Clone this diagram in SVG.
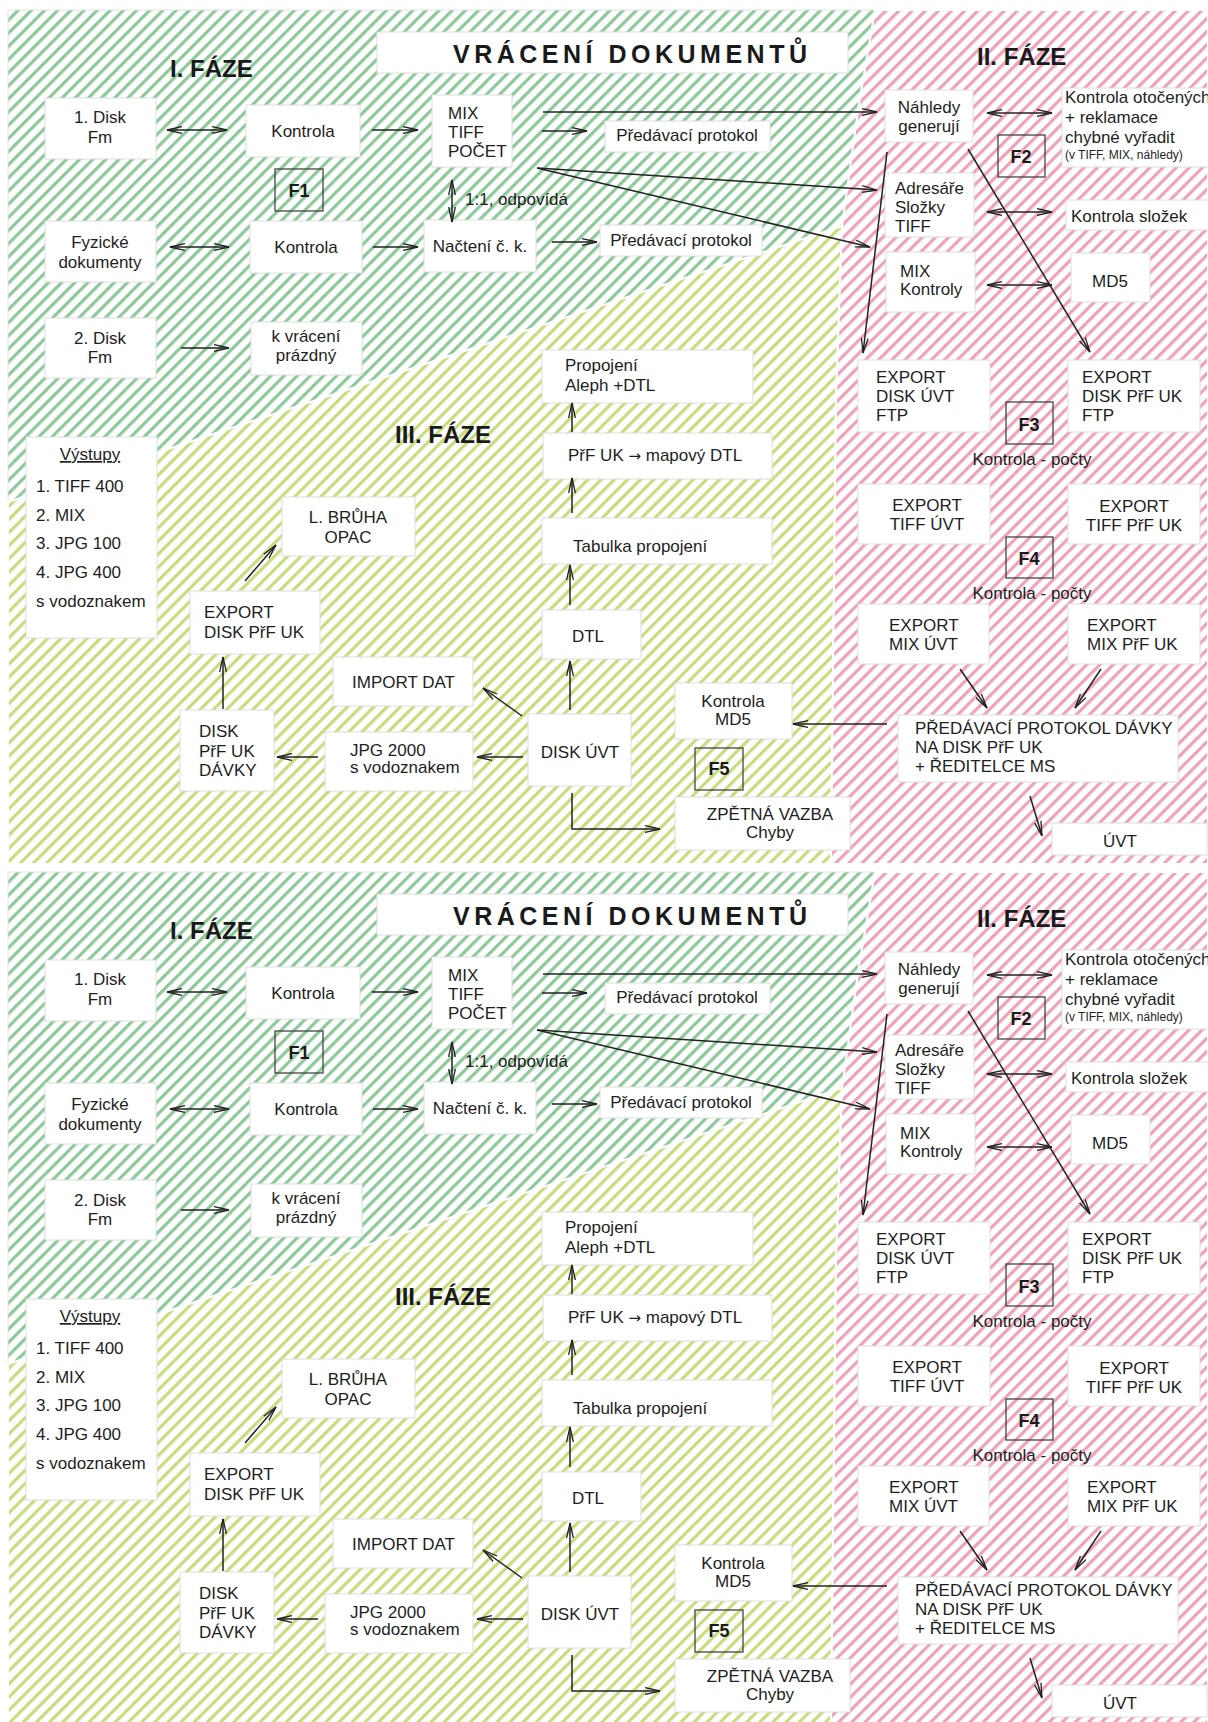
<svg xmlns="http://www.w3.org/2000/svg" width="1208" height="1722" viewBox="0 0 1208 1722">
<defs>
<pattern id="pg" patternUnits="userSpaceOnUse" width="9.3" height="9.3" patternTransform="rotate(45)"><rect width="9.3" height="9.3" fill="#fff"/><rect width="3.2" height="9.3" fill="#8cc89a"/></pattern>
<pattern id="py" patternUnits="userSpaceOnUse" width="9.3" height="9.3" patternTransform="rotate(45)"><rect width="9.3" height="9.3" fill="#fff"/><rect width="3.2" height="9.3" fill="#c6dc7e"/></pattern>
<pattern id="pp" patternUnits="userSpaceOnUse" width="9.3" height="9.3" patternTransform="rotate(45)"><rect width="9.3" height="9.3" fill="#fff"/><rect width="3.2" height="9.3" fill="#eca2ba"/></pattern>
<marker id="ah" viewBox="0 0 16 8" refX="15" refY="4" markerWidth="16" markerHeight="8" markerUnits="userSpaceOnUse" orient="auto-start-reverse"><path d="M0,0.6 L15,4 L0,7.4" fill="none" stroke="#222" stroke-width="1.3"/></marker>
<style>
.n rect{fill:#fff;stroke:#dedede;stroke-width:1}
text{font-family:"Liberation Sans",Arial,Helvetica,sans-serif;font-size:17px;fill:#1e1e1e}
.c{text-anchor:middle}
.ar{font-family:"DejaVu Sans",sans-serif;font-size:15px}
.ph{font-weight:bold;font-size:24px;fill:#1a1a1a}
.f rect{fill:none;stroke:#444;stroke-width:1.3}
.f text{font-weight:bold;font-size:18px;text-anchor:middle;fill:#1a1a1a}
.cn line,.cn polyline{stroke:#222;stroke-width:1.5;fill:none}
.a{marker-end:url(#ah)}
.d{marker-start:url(#ah);marker-end:url(#ah)}
.bg{stroke:#fff;stroke-width:2}
</style>
</defs>
<rect width="1208" height="1722" fill="#fff"/>

<g id="panelA">
<g id="a-zones">
<rect x="8" y="10" width="1200" height="854" fill="url(#pg)" stroke="#e4e4e4" stroke-width="1"/>
<polygon class="bg" points="8,502 842,226 836,400 831,864 8,864" fill="url(#py)"/>
<polygon class="bg" points="875,10 1208,10 1208,864 831,864 836,400 842,226 858,110" fill="url(#pp)"/>
</g>
<text class="ph" x="170" y="77">I. FÁZE</text>
<text class="ph" x="977" y="65">II. FÁZE</text>
<text class="ph" x="395" y="443">III. FÁZE</text>
<g id="a-title" class="n"><rect x="377" y="32" width="471" height="41"/><text x="453" y="63" style="font-weight:bold;font-size:25px;fill:#1a1a1a" textLength="354" lengthAdjust="spacing">VRÁCENÍ  DOKUMENTŮ</text></g>
<g id="a-disk1" class="n"><rect x="45" y="98" width="111" height="61"/><text class="c"><tspan x="100" y="123">1. Disk</tspan><tspan x="100" y="143">Fm</tspan></text></g>
<g id="a-kontrola1" class="n"><rect x="246" y="105" width="114" height="52"/><text class="c" x="303" y="137">Kontrola</text></g>
<g id="a-f1" class="f"><rect x="275" y="169" width="48" height="42"/><text x="299" y="197">F1</text></g>
<g id="a-fyzicke" class="n"><rect x="45" y="221" width="111" height="61"/><text class="c"><tspan x="100" y="248">Fyzické</tspan><tspan x="100" y="268">dokumenty</tspan></text></g>
<g id="a-kontrola2" class="n"><rect x="250" y="221" width="112" height="52"/><text class="c" x="306" y="253">Kontrola</text></g>
<g id="a-disk2" class="n"><rect x="45" y="318" width="111" height="60"/><text class="c"><tspan x="100" y="344">2. Disk</tspan><tspan x="100" y="363">Fm</tspan></text></g>
<g id="a-prazdny" class="n"><rect x="251" y="322" width="111" height="53"/><text class="c"><tspan x="306" y="342">k vrácení</tspan><tspan x="306" y="361">prázdný</tspan></text></g>
<g id="a-mix" class="n"><rect x="432" y="95" width="80" height="72"/><text><tspan x="448" y="119">MIX</tspan><tspan x="448" y="138">TIFF</tspan><tspan x="448" y="157">POČET</tspan></text></g>
<g id="a-pp1" class="n"><rect x="605" y="121" width="165" height="31"/><text class="c" x="687" y="141">Předávací protokol</text></g>
<text x="465" y="205">1:1, odpovídá</text>
<g id="a-nacteni" class="n"><rect x="424" y="220" width="112" height="52"/><text class="c" x="480" y="252">Načtení č. k.</text></g>
<g id="a-pp2" class="n"><rect x="600" y="225" width="162" height="31"/><text class="c" x="681" y="246">Předávací protokol</text></g>
<g id="a-nahledy" class="n"><rect x="885" y="90" width="88" height="52"/><text class="c"><tspan x="929" y="113">Náhledy</tspan><tspan x="929" y="132">generují</tspan></text></g>
<g id="a-otocenych" class="n"><rect x="1062" y="88" width="152" height="79"/><text><tspan x="1065" y="103">Kontrola otočených</tspan><tspan x="1065" y="123">+ reklamace</tspan><tspan x="1065" y="143">chybné vyřadit</tspan><tspan x="1065" y="159" style="font-size:12px">(v TIFF, MIX, náhledy)</tspan></text></g>
<g id="a-f2" class="f"><rect x="998" y="135" width="47" height="42"/><text x="1021" y="163">F2</text></g>
<g id="a-adresare" class="n"><rect x="885" y="173" width="89" height="64"/><text><tspan x="895" y="194">Adresáře</tspan><tspan x="895" y="213">Složky</tspan><tspan x="895" y="232">TIFF</tspan></text></g>
<g id="a-slozek" class="n"><rect x="1066" y="200" width="150" height="30"/><text x="1071" y="222">Kontrola složek</text></g>
<g id="a-mixkontroly" class="n"><rect x="886" y="252" width="89" height="60"/><text><tspan x="900" y="277">MIX</tspan><tspan x="900" y="295">Kontroly</tspan></text></g>
<g id="a-md5" class="n"><rect x="1071" y="253" width="79" height="49"/><text class="c" x="1110" y="287">MD5</text></g>
<g id="a-expdiskuvt" class="n"><rect x="858" y="360" width="132" height="72"/><text><tspan x="876" y="383">EXPORT</tspan><tspan x="876" y="402">DISK ÚVT</tspan><tspan x="876" y="421">FTP</tspan></text></g>
<g id="a-expdiskprf" class="n"><rect x="1068" y="360" width="132" height="72"/><text><tspan x="1082" y="383">EXPORT</tspan><tspan x="1082" y="402">DISK PřF UK</tspan><tspan x="1082" y="421">FTP</tspan></text></g>
<g id="a-f3" class="f"><rect x="1006" y="402" width="47" height="42"/><text x="1029" y="431">F3</text></g>
<text class="c" x="1032" y="465">Kontrola - počty</text>
<g id="a-exptiffuvt" class="n"><rect x="858" y="484" width="132" height="60"/><text class="c"><tspan x="927" y="511">EXPORT</tspan><tspan x="927" y="530">TIFF ÚVT</tspan></text></g>
<g id="a-exptiffprf" class="n"><rect x="1068" y="484" width="132" height="60"/><text class="c"><tspan x="1134" y="512">EXPORT</tspan><tspan x="1134" y="531">TIFF PřF UK</tspan></text></g>
<g id="a-f4" class="f"><rect x="1006" y="537" width="47" height="41"/><text x="1029" y="565">F4</text></g>
<text class="c" x="1032" y="599">Kontrola - počty</text>
<g id="a-expmixuvt" class="n"><rect x="858" y="604" width="131" height="60"/><text><tspan x="889" y="631">EXPORT</tspan><tspan x="889" y="650">MIX ÚVT</tspan></text></g>
<g id="a-expmixprf" class="n"><rect x="1068" y="604" width="132" height="60"/><text><tspan x="1087" y="631">EXPORT</tspan><tspan x="1087" y="650">MIX PřF UK</tspan></text></g>
<g id="a-davky" class="n"><rect x="898" y="715" width="280" height="67"/><text><tspan x="915" y="734">PŘEDÁVACÍ PROTOKOL DÁVKY</tspan><tspan x="915" y="753">NA DISK PřF UK</tspan><tspan x="915" y="772">+ ŘEDITELCE MS</tspan></text></g>
<g id="a-uvt" class="n"><rect x="1052" y="823" width="155" height="32"/><text class="c" x="1120" y="847">ÚVT</text></g>
<g id="a-vystupy" class="n"><rect x="26" y="437" width="131" height="201"/><text class="c" x="90" y="460" text-decoration="underline">Výstupy</text><text><tspan x="36" y="492">1. TIFF 400</tspan><tspan x="36" y="521">2. MIX</tspan><tspan x="36" y="549">3. JPG 100</tspan><tspan x="36" y="578">4. JPG 400</tspan><tspan x="36" y="607">s vodoznakem</tspan></text></g>
<g id="a-bruha" class="n"><rect x="282" y="497" width="133" height="59"/><text class="c"><tspan x="348" y="523">L. BRŮHA</tspan><tspan x="348" y="543">OPAC</tspan></text></g>
<g id="a-expdiskprfuk" class="n"><rect x="190" y="591" width="130" height="63"/><text><tspan x="204" y="618">EXPORT</tspan><tspan x="204" y="638">DISK PřF UK</tspan></text></g>
<g id="a-diskdavky" class="n"><rect x="180" y="710" width="94" height="81"/><text><tspan x="199" y="737">DISK</tspan><tspan x="199" y="757">PřF UK</tspan><tspan x="199" y="776">DÁVKY</tspan></text></g>
<g id="a-import" class="n"><rect x="333" y="657" width="140" height="49"/><text x="352" y="688">IMPORT DAT</text></g>
<g id="a-jpg2000" class="n"><rect x="325" y="732" width="148" height="59"/><text><tspan x="350" y="756">JPG 2000</tspan><tspan x="350" y="773">s vodoznakem</tspan></text></g>
<g id="a-propojeni" class="n"><rect x="542" y="350" width="211" height="53"/><text><tspan x="565" y="371">Propojení</tspan><tspan x="565" y="391">Aleph +DTL</tspan></text></g>
<g id="a-mapovy" class="n"><rect x="543" y="433" width="229" height="46"/><text x="568" y="461">PřF UK <tspan class="ar">→</tspan> mapový DTL</text></g>
<g id="a-tabulka" class="n"><rect x="542" y="518" width="230" height="46"/><text x="573" y="552">Tabulka propojení</text></g>
<g id="a-dtl" class="n"><rect x="542" y="610" width="99" height="49"/><text class="c" x="588" y="642">DTL</text></g>
<g id="a-diskuvt" class="n"><rect x="528" y="714" width="103" height="72"/><text class="c" x="580" y="758">DISK ÚVT</text></g>
<g id="a-kontrolamd5" class="n"><rect x="675" y="683" width="117" height="56"/><text class="c"><tspan x="733" y="707">Kontrola</tspan><tspan x="733" y="725">MD5</tspan></text></g>
<g id="a-f5" class="f"><rect x="695" y="748" width="48" height="42"/><text x="719" y="775">F5</text></g>
<g id="a-zpetna" class="n"><rect x="675" y="797" width="175" height="53"/><text class="c"><tspan x="770" y="820">ZPĚTNÁ VAZBA</tspan><tspan x="770" y="838">Chyby</tspan></text></g>
<g id="a-connectors" class="cn">
<line class="d" x1="167" y1="130" x2="227" y2="130"/>
<line class="a" x1="372" y1="130" x2="418" y2="130"/>
<line class="d" x1="170" y1="247" x2="229" y2="247"/>
<line class="a" x1="373" y1="247" x2="418" y2="247"/>
<line class="a" x1="181" y1="348" x2="229" y2="348"/>
<line class="d" x1="452" y1="180" x2="452" y2="222"/>
<line class="a" x1="542" y1="131" x2="587" y2="131"/>
<line class="a" x1="552" y1="242" x2="597" y2="242"/>
<line class="a" x1="543" y1="112" x2="877" y2="112"/>
<line class="a" x1="537" y1="168" x2="877" y2="190"/>
<line class="a" x1="537" y1="168" x2="870" y2="247"/>
<line class="d" x1="987" y1="113" x2="1052" y2="113"/>
<line class="d" x1="987" y1="212" x2="1052" y2="212"/>
<line class="d" x1="987" y1="285" x2="1052" y2="285"/>
<line class="a" x1="887" y1="152" x2="863" y2="353"/>
<line class="a" x1="968" y1="149" x2="1090" y2="352"/>
<line class="a" x1="960" y1="669" x2="987" y2="708"/>
<line class="a" x1="1101" y1="669" x2="1075" y2="708"/>
<line class="a" x1="887" y1="724" x2="793" y2="724"/>
<line class="a" x1="1030" y1="796" x2="1042" y2="836"/>
<line class="a" x1="572" y1="432" x2="572" y2="403"/>
<line class="a" x1="572" y1="513" x2="572" y2="478"/>
<line class="a" x1="570" y1="605" x2="570" y2="565"/>
<line class="a" x1="570" y1="710" x2="570" y2="661"/>
<line class="a" x1="522" y1="716" x2="483" y2="688"/>
<line class="a" x1="523" y1="757" x2="477" y2="757"/>
<line class="a" x1="318" y1="757" x2="277" y2="757"/>
<line class="a" x1="223" y1="709" x2="223" y2="657"/>
<line class="a" x1="245" y1="581" x2="276" y2="545"/>
<polyline class="a" points="572,793 572,829 660,829"/>
</g>
</g>

<g id="panelB" transform="translate(0,862)">
<g id="b-zones">
<rect x="8" y="10" width="1200" height="854" fill="url(#pg)" stroke="#e4e4e4" stroke-width="1"/>
<polygon class="bg" points="8,502 842,226 836,400 831,864 8,864" fill="url(#py)"/>
<polygon class="bg" points="875,10 1208,10 1208,864 831,864 836,400 842,226 858,110" fill="url(#pp)"/>
</g>
<text class="ph" x="170" y="77">I. FÁZE</text>
<text class="ph" x="977" y="65">II. FÁZE</text>
<text class="ph" x="395" y="443">III. FÁZE</text>
<g id="b-title" class="n"><rect x="377" y="32" width="471" height="41"/><text x="453" y="63" style="font-weight:bold;font-size:25px;fill:#1a1a1a" textLength="354" lengthAdjust="spacing">VRÁCENÍ  DOKUMENTŮ</text></g>
<g id="b-disk1" class="n"><rect x="45" y="98" width="111" height="61"/><text class="c"><tspan x="100" y="123">1. Disk</tspan><tspan x="100" y="143">Fm</tspan></text></g>
<g id="b-kontrola1" class="n"><rect x="246" y="105" width="114" height="52"/><text class="c" x="303" y="137">Kontrola</text></g>
<g id="b-f1" class="f"><rect x="275" y="169" width="48" height="42"/><text x="299" y="197">F1</text></g>
<g id="b-fyzicke" class="n"><rect x="45" y="221" width="111" height="61"/><text class="c"><tspan x="100" y="248">Fyzické</tspan><tspan x="100" y="268">dokumenty</tspan></text></g>
<g id="b-kontrola2" class="n"><rect x="250" y="221" width="112" height="52"/><text class="c" x="306" y="253">Kontrola</text></g>
<g id="b-disk2" class="n"><rect x="45" y="318" width="111" height="60"/><text class="c"><tspan x="100" y="344">2. Disk</tspan><tspan x="100" y="363">Fm</tspan></text></g>
<g id="b-prazdny" class="n"><rect x="251" y="322" width="111" height="53"/><text class="c"><tspan x="306" y="342">k vrácení</tspan><tspan x="306" y="361">prázdný</tspan></text></g>
<g id="b-mix" class="n"><rect x="432" y="95" width="80" height="72"/><text><tspan x="448" y="119">MIX</tspan><tspan x="448" y="138">TIFF</tspan><tspan x="448" y="157">POČET</tspan></text></g>
<g id="b-pp1" class="n"><rect x="605" y="121" width="165" height="31"/><text class="c" x="687" y="141">Předávací protokol</text></g>
<text x="465" y="205">1:1, odpovídá</text>
<g id="b-nacteni" class="n"><rect x="424" y="220" width="112" height="52"/><text class="c" x="480" y="252">Načtení č. k.</text></g>
<g id="b-pp2" class="n"><rect x="600" y="225" width="162" height="31"/><text class="c" x="681" y="246">Předávací protokol</text></g>
<g id="b-nahledy" class="n"><rect x="885" y="90" width="88" height="52"/><text class="c"><tspan x="929" y="113">Náhledy</tspan><tspan x="929" y="132">generují</tspan></text></g>
<g id="b-otocenych" class="n"><rect x="1062" y="88" width="152" height="79"/><text><tspan x="1065" y="103">Kontrola otočených</tspan><tspan x="1065" y="123">+ reklamace</tspan><tspan x="1065" y="143">chybné vyřadit</tspan><tspan x="1065" y="159" style="font-size:12px">(v TIFF, MIX, náhledy)</tspan></text></g>
<g id="b-f2" class="f"><rect x="998" y="135" width="47" height="42"/><text x="1021" y="163">F2</text></g>
<g id="b-adresare" class="n"><rect x="885" y="173" width="89" height="64"/><text><tspan x="895" y="194">Adresáře</tspan><tspan x="895" y="213">Složky</tspan><tspan x="895" y="232">TIFF</tspan></text></g>
<g id="b-slozek" class="n"><rect x="1066" y="200" width="150" height="30"/><text x="1071" y="222">Kontrola složek</text></g>
<g id="b-mixkontroly" class="n"><rect x="886" y="252" width="89" height="60"/><text><tspan x="900" y="277">MIX</tspan><tspan x="900" y="295">Kontroly</tspan></text></g>
<g id="b-md5" class="n"><rect x="1071" y="253" width="79" height="49"/><text class="c" x="1110" y="287">MD5</text></g>
<g id="b-expdiskuvt" class="n"><rect x="858" y="360" width="132" height="72"/><text><tspan x="876" y="383">EXPORT</tspan><tspan x="876" y="402">DISK ÚVT</tspan><tspan x="876" y="421">FTP</tspan></text></g>
<g id="b-expdiskprf" class="n"><rect x="1068" y="360" width="132" height="72"/><text><tspan x="1082" y="383">EXPORT</tspan><tspan x="1082" y="402">DISK PřF UK</tspan><tspan x="1082" y="421">FTP</tspan></text></g>
<g id="b-f3" class="f"><rect x="1006" y="402" width="47" height="42"/><text x="1029" y="431">F3</text></g>
<text class="c" x="1032" y="465">Kontrola - počty</text>
<g id="b-exptiffuvt" class="n"><rect x="858" y="484" width="132" height="60"/><text class="c"><tspan x="927" y="511">EXPORT</tspan><tspan x="927" y="530">TIFF ÚVT</tspan></text></g>
<g id="b-exptiffprf" class="n"><rect x="1068" y="484" width="132" height="60"/><text class="c"><tspan x="1134" y="512">EXPORT</tspan><tspan x="1134" y="531">TIFF PřF UK</tspan></text></g>
<g id="b-f4" class="f"><rect x="1006" y="537" width="47" height="41"/><text x="1029" y="565">F4</text></g>
<text class="c" x="1032" y="599">Kontrola - počty</text>
<g id="b-expmixuvt" class="n"><rect x="858" y="604" width="131" height="60"/><text><tspan x="889" y="631">EXPORT</tspan><tspan x="889" y="650">MIX ÚVT</tspan></text></g>
<g id="b-expmixprf" class="n"><rect x="1068" y="604" width="132" height="60"/><text><tspan x="1087" y="631">EXPORT</tspan><tspan x="1087" y="650">MIX PřF UK</tspan></text></g>
<g id="b-davky" class="n"><rect x="898" y="715" width="280" height="67"/><text><tspan x="915" y="734">PŘEDÁVACÍ PROTOKOL DÁVKY</tspan><tspan x="915" y="753">NA DISK PřF UK</tspan><tspan x="915" y="772">+ ŘEDITELCE MS</tspan></text></g>
<g id="b-uvt" class="n"><rect x="1052" y="823" width="155" height="32"/><text class="c" x="1120" y="847">ÚVT</text></g>
<g id="b-vystupy" class="n"><rect x="26" y="437" width="131" height="201"/><text class="c" x="90" y="460" text-decoration="underline">Výstupy</text><text><tspan x="36" y="492">1. TIFF 400</tspan><tspan x="36" y="521">2. MIX</tspan><tspan x="36" y="549">3. JPG 100</tspan><tspan x="36" y="578">4. JPG 400</tspan><tspan x="36" y="607">s vodoznakem</tspan></text></g>
<g id="b-bruha" class="n"><rect x="282" y="497" width="133" height="59"/><text class="c"><tspan x="348" y="523">L. BRŮHA</tspan><tspan x="348" y="543">OPAC</tspan></text></g>
<g id="b-expdiskprfuk" class="n"><rect x="190" y="591" width="130" height="63"/><text><tspan x="204" y="618">EXPORT</tspan><tspan x="204" y="638">DISK PřF UK</tspan></text></g>
<g id="b-diskdavky" class="n"><rect x="180" y="710" width="94" height="81"/><text><tspan x="199" y="737">DISK</tspan><tspan x="199" y="757">PřF UK</tspan><tspan x="199" y="776">DÁVKY</tspan></text></g>
<g id="b-import" class="n"><rect x="333" y="657" width="140" height="49"/><text x="352" y="688">IMPORT DAT</text></g>
<g id="b-jpg2000" class="n"><rect x="325" y="732" width="148" height="59"/><text><tspan x="350" y="756">JPG 2000</tspan><tspan x="350" y="773">s vodoznakem</tspan></text></g>
<g id="b-propojeni" class="n"><rect x="542" y="350" width="211" height="53"/><text><tspan x="565" y="371">Propojení</tspan><tspan x="565" y="391">Aleph +DTL</tspan></text></g>
<g id="b-mapovy" class="n"><rect x="543" y="433" width="229" height="46"/><text x="568" y="461">PřF UK <tspan class="ar">→</tspan> mapový DTL</text></g>
<g id="b-tabulka" class="n"><rect x="542" y="518" width="230" height="46"/><text x="573" y="552">Tabulka propojení</text></g>
<g id="b-dtl" class="n"><rect x="542" y="610" width="99" height="49"/><text class="c" x="588" y="642">DTL</text></g>
<g id="b-diskuvt" class="n"><rect x="528" y="714" width="103" height="72"/><text class="c" x="580" y="758">DISK ÚVT</text></g>
<g id="b-kontrolamd5" class="n"><rect x="675" y="683" width="117" height="56"/><text class="c"><tspan x="733" y="707">Kontrola</tspan><tspan x="733" y="725">MD5</tspan></text></g>
<g id="b-f5" class="f"><rect x="695" y="748" width="48" height="42"/><text x="719" y="775">F5</text></g>
<g id="b-zpetna" class="n"><rect x="675" y="797" width="175" height="53"/><text class="c"><tspan x="770" y="820">ZPĚTNÁ VAZBA</tspan><tspan x="770" y="838">Chyby</tspan></text></g>
<g id="b-connectors" class="cn">
<line class="d" x1="167" y1="130" x2="227" y2="130"/>
<line class="a" x1="372" y1="130" x2="418" y2="130"/>
<line class="d" x1="170" y1="247" x2="229" y2="247"/>
<line class="a" x1="373" y1="247" x2="418" y2="247"/>
<line class="a" x1="181" y1="348" x2="229" y2="348"/>
<line class="d" x1="452" y1="180" x2="452" y2="222"/>
<line class="a" x1="542" y1="131" x2="587" y2="131"/>
<line class="a" x1="552" y1="242" x2="597" y2="242"/>
<line class="a" x1="543" y1="112" x2="877" y2="112"/>
<line class="a" x1="537" y1="168" x2="877" y2="190"/>
<line class="a" x1="537" y1="168" x2="870" y2="247"/>
<line class="d" x1="987" y1="113" x2="1052" y2="113"/>
<line class="d" x1="987" y1="212" x2="1052" y2="212"/>
<line class="d" x1="987" y1="285" x2="1052" y2="285"/>
<line class="a" x1="887" y1="152" x2="863" y2="353"/>
<line class="a" x1="968" y1="149" x2="1090" y2="352"/>
<line class="a" x1="960" y1="669" x2="987" y2="708"/>
<line class="a" x1="1101" y1="669" x2="1075" y2="708"/>
<line class="a" x1="887" y1="724" x2="793" y2="724"/>
<line class="a" x1="1030" y1="796" x2="1042" y2="836"/>
<line class="a" x1="572" y1="432" x2="572" y2="403"/>
<line class="a" x1="572" y1="513" x2="572" y2="478"/>
<line class="a" x1="570" y1="605" x2="570" y2="565"/>
<line class="a" x1="570" y1="710" x2="570" y2="661"/>
<line class="a" x1="522" y1="716" x2="483" y2="688"/>
<line class="a" x1="523" y1="757" x2="477" y2="757"/>
<line class="a" x1="318" y1="757" x2="277" y2="757"/>
<line class="a" x1="223" y1="709" x2="223" y2="657"/>
<line class="a" x1="245" y1="581" x2="276" y2="545"/>
<polyline class="a" points="572,793 572,829 660,829"/>
</g>
</g>
</svg>
